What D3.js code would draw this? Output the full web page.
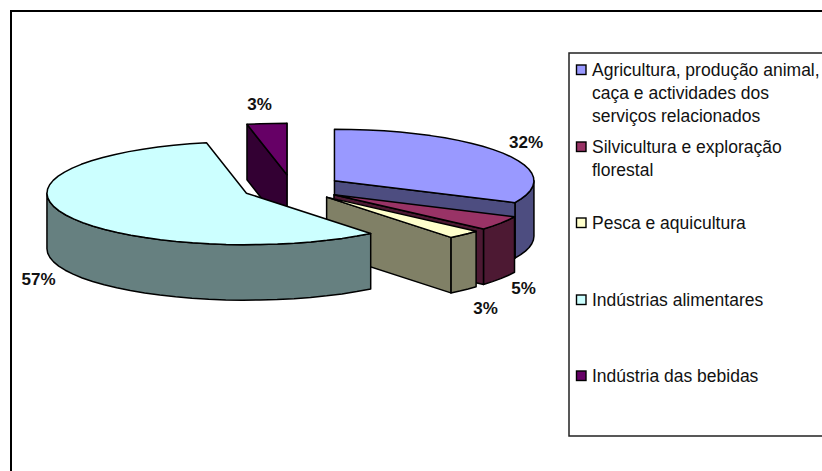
<!DOCTYPE html>
<html><head><meta charset="utf-8">
<style>html,body{margin:0;padding:0;background:#fff}svg{display:block}text{font-family:"Liberation Sans",Arial,sans-serif}</style>
<script src="https://cdn.jsdelivr.net/npm/d3@7/dist/d3.min.js"></script>
</head><body><svg id="c" width="822" height="471"></svg>
<script>
const categories = ["Agricultura, produção animal, caça e actividades dos serviços relacionados","Silvicultura e exploração florestal","Pesca e aquicultura","Indústrias alimentares","Indústria das bebidas"];
const values = [32.0, 4.52, 2.78, 57.49, 3.21];
const topColors = ["#9999ff","#993366","#ffffcc","#ccffff","#660066"];
const sideColors = ["#4d4d80","#4d1933","#808066","#668080","#330033"];
const legendLines = [["Agricultura, produção animal,","caça e actividades dos","serviços relacionados"],["Silvicultura e exploração","florestal"],["Pesca e aquicultura"],["Indústrias alimentares"],["Indústria das bebidas"]];

const W=822,H=471;
const svg=d3.select("#c");
const cx=292,cy=187.7,rx=199.5,ry=51.5,depth=55.5,explode=0.252;
const STEP=Math.PI/36;
const pie=d3.pie().sort(null).startAngle(0).endAngle(2*Math.PI);
const arcs=pie(values).map((a,i)=>{
  const mid=(a.startAngle+a.endAngle)/2;
  return {i,a0:a.startAngle,a1:a.endAngle,value:values[i],
    ox:cx+explode*rx*Math.sin(mid), oy:cy-explode*ry*Math.cos(mid)};
});
const px=(d,t)=>d.ox+rx*Math.sin(t), py=(d,t)=>d.oy-ry*Math.cos(t);
const line=d3.line();
const stroke={stroke:"#000","stroke-width":1.5,"stroke-linejoin":"round"};
function P(pts,fill){
  const p=svg.append("path").attr("d",line(pts)+"Z").attr("fill",fill);
  Object.entries(stroke).forEach(([k,v])=>p.attr(k,v));
}
function sweep(d,a,b){
  const n=Math.max(2,Math.ceil((b-a)/STEP)), r=[];
  for(let k=0;k<=n;k++){const t=a+(b-a)*k/n; r.push([px(d,t),py(d,t)]);}
  return r;
}
// white background and frame
svg.append("rect").attr("width",W).attr("height",H).attr("fill","#fff");
svg.append("path").attr("d","M11,471V11H822").attr("fill","none").attr("stroke","#000").attr("stroke-width",2);

// draw back to front: beverages, agriculture, forestry, fishing, food
[4,0,1,2,3].forEach(idx=>{
  const d=arcs[idx], c=sideColors[idx];
  // outer wall, visible where the rim faces the viewer
  const wa=Math.max(d.a0,Math.PI/2), wb=Math.min(d.a1,3*Math.PI/2);
  if(wb>wa){
    const top=sweep(d,wa,wb);
    const bot=top.map(([x,y])=>[x,y+depth]).reverse();
    P(top.concat(bot),c);
  }
  // radial cut face at end of slice (right half) or start of slice (left half)
  const faces=[];
  if(Math.sin(d.a1)>0) faces.push(d.a1);
  if(Math.sin(d.a0)<0) faces.push(d.a0);
  faces.forEach(t=>{
    const x=px(d,t),y=py(d,t);
    P([[d.ox,d.oy],[x,y],[x,y+depth],[d.ox,d.oy+depth]],c);
  });
  // top face
  P([[d.ox,d.oy]].concat(sweep(d,d.a0,d.a1)),topColors[idx]);
});

// data labels
const fmt=v=>Math.round(v)+"%";
const labelPos=[[526,148],[523.5,294],[485.5,314],[38.5,285],[259.5,110]];
svg.append("g").selectAll("text").data(arcs).join("text")
  .attr("x",d=>labelPos[d.i][0]).attr("y",d=>labelPos[d.i][1])
  .attr("text-anchor","middle").attr("font-size",17).attr("font-weight","bold").attr("fill","#111")
  .text(d=>fmt(d.value));

// legend
svg.append("path").attr("d","M822,53H569V436H822").attr("fill","none").attr("stroke","#222").attr("stroke-width",1.5);
const legendBase=[76,153,229,306,382];
const lg=svg.append("g").selectAll("g").data(categories).join("g");
lg.append("rect").attr("x",576.5).attr("y",(d,i)=>legendBase[i]-11).attr("width",9.5).attr("height",9.5)
  .attr("fill",(d,i)=>topColors[i]).attr("stroke","#000").attr("stroke-width",1.4);
lg.each(function(d,i){
  d3.select(this).selectAll("text").data(legendLines[i]).join("text")
    .attr("x",592).attr("y",(l,k)=>legendBase[i]+k*23).attr("font-size",17.5).attr("fill","#111").text(l=>l);
});
</script></body></html>
